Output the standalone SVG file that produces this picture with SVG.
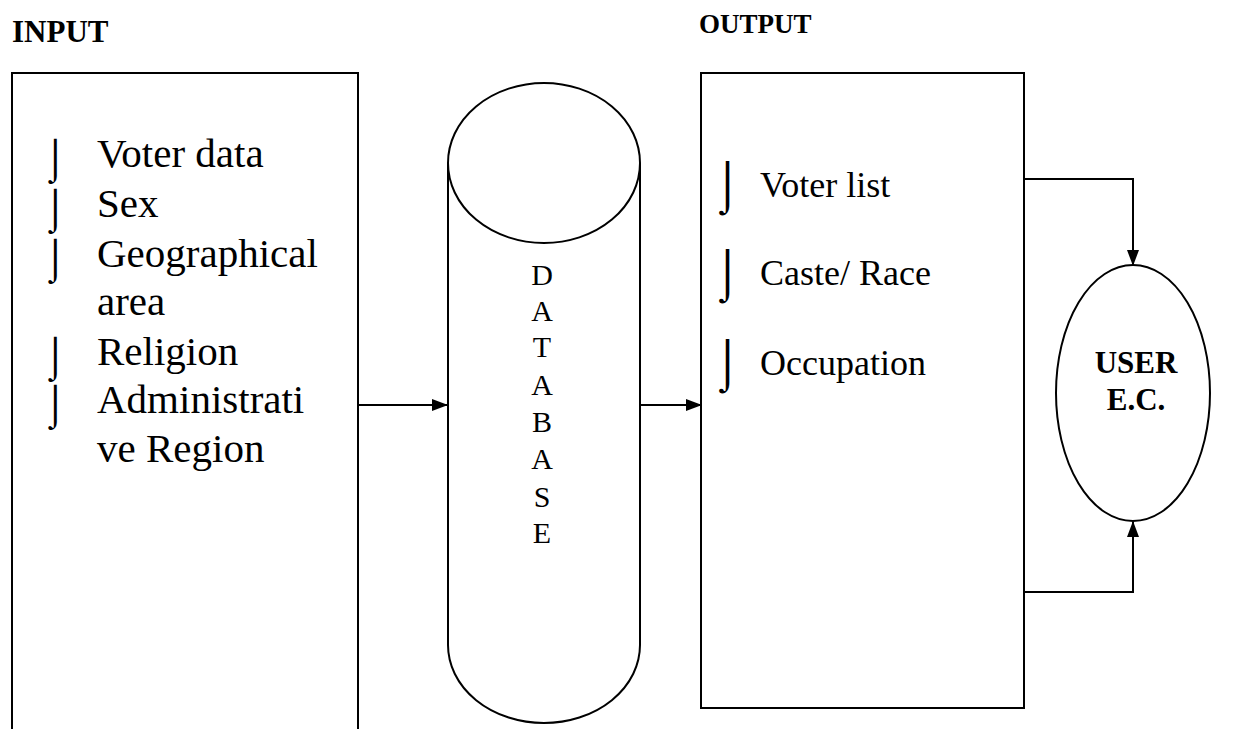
<svg xmlns="http://www.w3.org/2000/svg" width="1250" height="729" viewBox="0 0 1250 729">
<style>
.s{fill:none;stroke:#000;stroke-width:2}
.t{font-family:"Liberation Serif","Times New Roman",serif;fill:#000}
.b{font-weight:bold}
.bi{font-family:"Liberation Serif","DejaVu Serif",serif;fill:#000}
</style>
<defs>
<marker id="ah" markerWidth="16" markerHeight="12" refX="15" refY="6" orient="auto" markerUnits="userSpaceOnUse">
<path d="M0,0 L16,6 L0,12 Z" fill="#000"/>
</marker>
</defs>
<rect width="1250" height="729" fill="#fff"/>
<g id="input">
<text class="t b" x="12" y="42" font-size="31">INPUT</text>
<path class="s" d="M12,729 V73 H358 V729"/>
<g class="t" font-size="41">
<text x="97" y="167">Voter data</text>
<text x="97" y="217">Sex</text>
<text x="97" y="267">Geographical</text>
<text x="97" y="315">area</text>
<text x="97" y="365">Religion</text>
<text x="97" y="413">Administrati</text>
<text x="97" y="462">ve Region</text>
</g>
<g class="bi" font-size="40">
<text x="43" y="172">⌡</text>
<text x="43" y="222">⌡</text>
<text x="43" y="272">⌡</text>
<text x="43" y="370">⌡</text>
<text x="43" y="418">⌡</text>
</g>
</g>
<g id="database">
<path class="s" d="M448,163 V645 A96,78 0 0 0 640,645 V163"/>
<ellipse class="s" cx="544" cy="163" rx="96" ry="80"/>
<g class="t" font-size="30" text-anchor="middle">
<text x="542" y="285">D</text>
<text x="542" y="321">A</text>
<text x="542" y="357">T</text>
<text x="542" y="395">A</text>
<text x="542" y="432">B</text>
<text x="542" y="469">A</text>
<text x="542" y="507">S</text>
<text x="542" y="543">E</text>
</g>
</g>
<g id="output">
<text class="t b" x="699" y="33" font-size="27">OUTPUT</text>
<rect class="s" x="701" y="73" width="323" height="635"/>
<g class="t" font-size="36">
<text x="760" y="197">Voter list</text>
<text x="760" y="285">Caste/ Race</text>
<text x="760" y="375">Occupation</text>
</g>
<g class="bi" font-size="48">
<text x="713" y="201">⌡</text>
<text x="713" y="289">⌡</text>
<text x="713" y="379">⌡</text>
</g>
</g>
<g id="user">
<ellipse class="s" cx="1133" cy="393" rx="77" ry="128"/>
<g class="t b" font-size="31" text-anchor="middle">
<text x="1136" y="373">USER</text>
<text x="1136" y="410">E.C.</text>
</g>
</g>
<g id="connectors" class="s">
<line x1="358" y1="405" x2="447" y2="405" marker-end="url(#ah)"/>
<line x1="640" y1="405" x2="701" y2="405" marker-end="url(#ah)"/>
<polyline points="1024,179 1133,179 1133,265" marker-end="url(#ah)"/>
<polyline points="1024,592 1133,592 1133,522" marker-end="url(#ah)"/>
</g>
</svg>
